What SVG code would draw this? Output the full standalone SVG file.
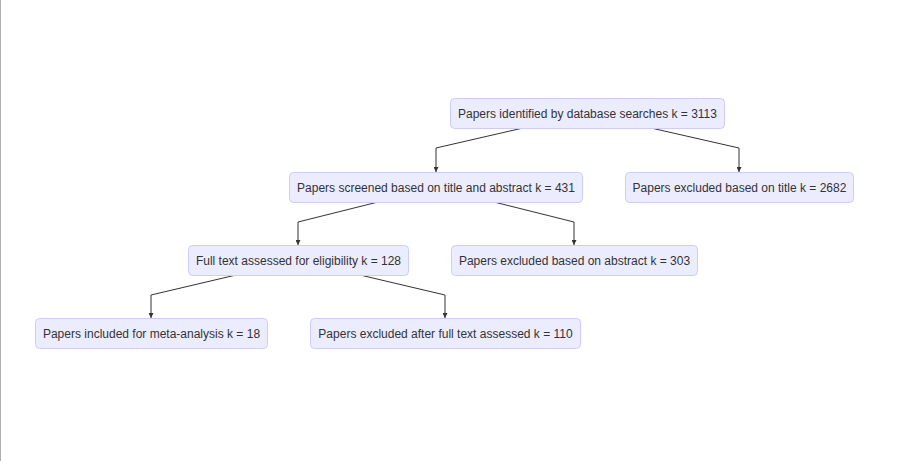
<svg xmlns="http://www.w3.org/2000/svg" width="902" height="461" viewBox="0 0 902 461">
<style>
.node rect{fill:#ECECFF;stroke:#CCCCFF;stroke-width:1}
.node text{font-family:"Liberation Sans",Arial,sans-serif;font-size:12px;fill:#333;text-anchor:middle}
.edge{fill:none;stroke:#333;stroke-width:1}
</style>
<defs>
<marker id="arr" viewBox="0 0 10 10" refX="10" refY="5" markerWidth="5" markerHeight="5" orient="auto" markerUnits="userSpaceOnUse">
<path d="M0,0 L10,5 L0,10 z" fill="#333"/>
</marker>
</defs>
<rect x="0" y="0" width="902" height="461" fill="#fff"/>
<line x1="0.5" y1="0" x2="0.5" y2="461" stroke="#b0b0b0" stroke-width="1"/>
<g id="connectors">
<path class="edge" d="M523,128 L436,148 L436,172" marker-end="url(#arr)"/>
<path class="edge" d="M651,128 L739,148 L739,172" marker-end="url(#arr)"/>
<path class="edge" d="M378,202 L298,222 L298,245" marker-end="url(#arr)"/>
<path class="edge" d="M494,202 L574,222 L574,245" marker-end="url(#arr)"/>
<path class="edge" d="M236,275 L151,295 L151,318" marker-end="url(#arr)"/>
<path class="edge" d="M360,275 L445,295 L445,318" marker-end="url(#arr)"/>
</g>
<g id="n1" class="node"><rect x="450.5" y="98.5" width="274" height="30" rx="4"/><text x="587.5" y="117.5">Papers identified by database searches k = 3113</text></g>
<g id="n2" class="node"><rect x="289.5" y="172.5" width="293" height="30" rx="4"/><text x="436" y="191.5">Papers screened based on title and abstract k = 431</text></g>
<g id="n3" class="node"><rect x="625.5" y="172.5" width="228" height="30" rx="4"/><text x="739.5" y="191.5">Papers excluded based on title k = 2682</text></g>
<g id="n4" class="node"><rect x="188.5" y="245.5" width="220" height="30" rx="4"/><text x="298.5" y="264.5">Full text assessed for eligibility k = 128</text></g>
<g id="n5" class="node"><rect x="451.5" y="245.5" width="246" height="30" rx="4"/><text x="574.5" y="264.5">Papers excluded based on abstract k = 303</text></g>
<g id="n6" class="node"><rect x="35.5" y="318.5" width="232" height="30" rx="4"/><text x="151.5" y="337.5">Papers included for meta-analysis k = 18</text></g>
<g id="n7" class="node"><rect x="310.5" y="318.5" width="270" height="30" rx="4"/><text x="445.5" y="337.5">Papers excluded after full text assessed k = 110</text></g>
</svg>
